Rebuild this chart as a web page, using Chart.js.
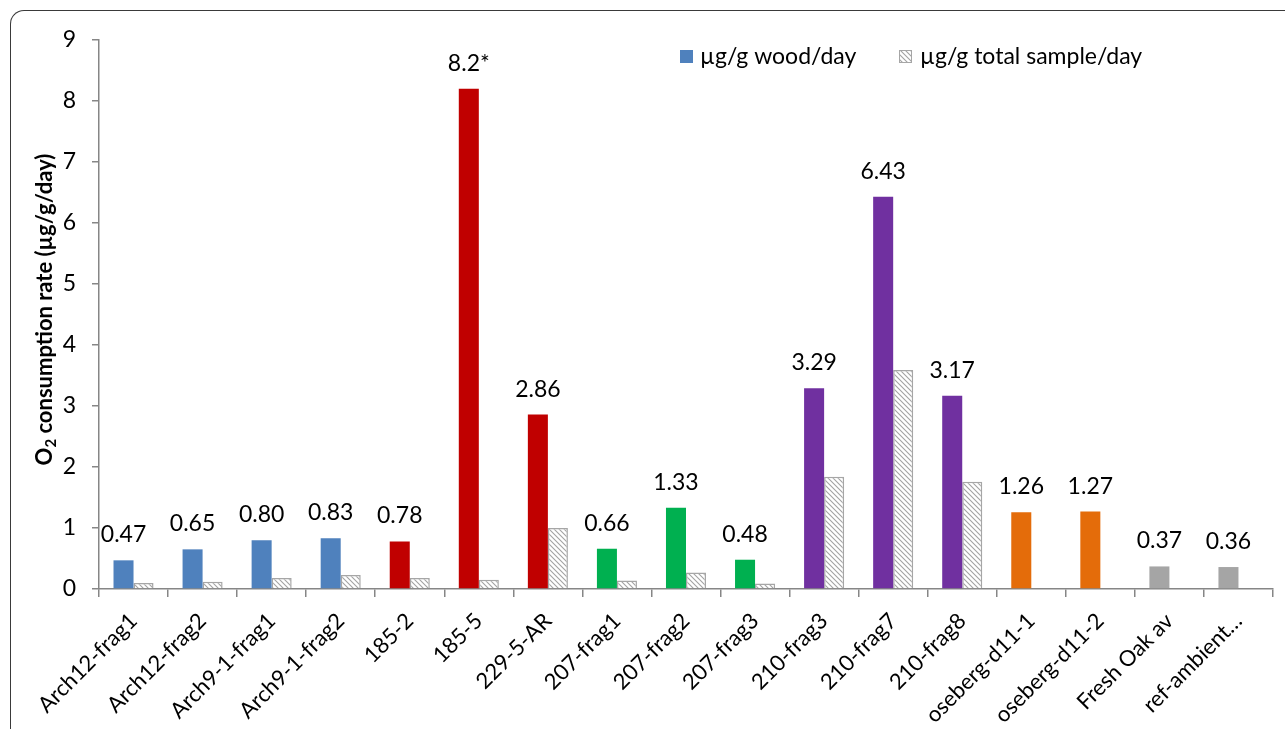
<!DOCTYPE html>
<html>
<head>
<meta charset="utf-8">
<script src="https://cdn.jsdelivr.net/npm/chart.js@4/dist/chart.umd.min.js"></script>
<style>
  html, body { margin: 0; padding: 0; background: #fff; overflow: hidden; }
  #wrap { position: relative; width: 1285px; height: 729px; }
  #frame {
    position: absolute; left: 10px; top: 10px; width: 1400px; height: 900px;
    border-top: 1.5px solid #3a3a3a; border-left: 1.5px solid #3a3a3a;
    border-top-left-radius: 14px; box-sizing: border-box; pointer-events: none;
  }
  canvas { position: absolute; left: 0; top: 0; }
</style>
</head>
<body>
<div id="wrap">
  <canvas id="c" width="1285" height="729"></canvas>
  <div id="frame"></div>
</div>
<script>
// Samples
const categories = [
  'Arch12-frag1', 'Arch12-frag2', 'Arch9-1-frag1', 'Arch9-1-frag2', '185-2', '185-5',
  '229-5-AR', '207-frag1', '207-frag2', '207-frag3', '210-frag3', '210-frag7',
  '210-frag8', 'oseberg-d11-1', 'oseberg-d11-2', 'Fresh Oak av', 'ref-ambient…'
];

// O2 consumption, µg/g wood/day
const woodRate = [0.47, 0.65, 0.80, 0.83, 0.78, 8.2, 2.86, 0.66, 1.33, 0.48, 3.29, 6.43, 3.17, 1.26, 1.27, 0.37, 0.36];
const woodLabels = ['0.47', '0.65', '0.80', '0.83', '0.78', '8.2*', '2.86', '0.66', '1.33', '0.48', '3.29', '6.43', '3.17', '1.26', '1.27', '0.37', '0.36'];

// O2 consumption, µg/g total sample/day
const totalRate = [0.10, 0.12, 0.18, 0.23, 0.18, 0.15, 1.00, 0.14, 0.27, 0.09, 1.84, 3.59, 1.76, null, null, null, null];

// Colour per sample group
const groupColors = [
  '#4F81BD', '#4F81BD', '#4F81BD', '#4F81BD',
  '#C00000', '#C00000', '#C00000',
  '#00B050', '#00B050', '#00B050',
  '#7030A0', '#7030A0', '#7030A0',
  '#E46C0A', '#E46C0A',
  '#A5A5A5', '#A5A5A5'
];

const yTicks = [0, 1, 2, 3, 4, 5, 6, 7, 8, 9];
const seriesNames = ['µg/g wood/day', 'µg/g total sample/day'];

const FONT = 'Lato, "Open Sans", sans-serif';

// diagonal hatch fill
function makeHatch() {
  const s = 5;
  const pc = document.createElement('canvas');
  pc.width = s; pc.height = s;
  const p = pc.getContext('2d');
  p.fillStyle = '#ffffff';
  p.fillRect(0, 0, s, s);
  p.strokeStyle = '#a3a3a3';
  p.lineWidth = 1.1;
  p.beginPath();
  p.moveTo(-1, -1); p.lineTo(s + 1, s + 1);
  p.moveTo(-1, s - 1); p.lineTo(1, s + 1);
  p.moveTo(s - 1, -1); p.lineTo(s + 1, 1);
  p.stroke();
  return document.getElementById('c').getContext('2d').createPattern(pc, 'repeat');
}
const hatch = makeHatch();

const overlay = {
  id: 'overlay',
  afterDatasetsDraw(chart) {
    const ctx = chart.ctx;
    const meta = chart.getDatasetMeta(0);
    ctx.save();
    // value labels over the wood bars
    ctx.font = '23px ' + FONT;
    ctx.fillStyle = '#000';
    ctx.textAlign = 'center';
    ctx.textBaseline = 'alphabetic';
    meta.data.forEach((bar, i) => {
      ctx.fillText(woodLabels[i], bar.x, bar.y - 18);
    });

    // legend
    ctx.textAlign = 'left';
    ctx.font = '23px ' + FONT;
    ctx.fillStyle = '#4F81BD';
    ctx.fillRect(680, 50, 13, 13);
    ctx.fillStyle = '#000';
    ctx.fillText(seriesNames[0], 700, 64);
    ctx.fillStyle = hatch;
    ctx.fillRect(899, 50, 13, 13);
    ctx.strokeStyle = '#a6a6a6';
    ctx.lineWidth = 1;
    ctx.strokeRect(899.5, 50.5, 12, 12);
    ctx.fillStyle = '#000';
    ctx.fillText(seriesNames[1], 920, 64);

    // y axis title with subscript
    const area = chart.chartArea;
    ctx.translate(45, (area.top + area.bottom) / 2 - 5);
    ctx.rotate(-Math.PI / 2);
    const big = 'bold 22px ' + FONT;
    const small = 'bold 15px ' + FONT;
    const rest = ' consumption rate (µg/g/day)';
    ctx.font = big; const wO = ctx.measureText('O').width; const wR = ctx.measureText(rest).width;
    ctx.font = small; const w2 = ctx.measureText('2').width;
    let x = -(wO + w2 + wR) / 2;
    ctx.textBaseline = 'middle';
    ctx.font = big; ctx.fillText('O', x, 0); x += wO;
    ctx.font = small; ctx.fillText('2', x, 6); x += w2;
    ctx.font = big; ctx.fillText(rest, x, 0);
    ctx.restore();
  }
};

new Chart(document.getElementById('c'), {
  type: 'bar',
  data: {
    labels: categories,
    datasets: [
      {
        label: seriesNames[0],
        data: woodRate,
        backgroundColor: groupColors,
        borderWidth: 0,
        categoryPercentage: 0.58,
        barPercentage: 1.0
      },
      {
        label: seriesNames[1],
        data: totalRate,
        backgroundColor: hatch,
        borderColor: '#a6a6a6',
        borderWidth: 1.5,
        categoryPercentage: 0.58,
        barPercentage: 1.0
      }
    ]
  },
  options: {
    responsive: false,
    devicePixelRatio: 1,
    animation: false,
    layout: { padding: { top: 40, right: 12, left: 0, bottom: 0 } },
    plugins: {
      legend: { display: false },
      tooltip: { enabled: false }
    },
    scales: {
      x: {
        offset: true,
        grid: { offset: true, drawOnChartArea: false, drawTicks: true, tickLength: 8, color: '#868686', lineWidth: 1.5 },
        border: { display: true, color: '#868686', width: 1.5 },
        ticks: {
          font: { family: FONT, size: 22 }, color: '#000',
          maxRotation: 45, minRotation: 45, autoSkip: false, padding: 11
        },
        afterFit(scale) { scale.height = 140; scale.paddingLeft = 0; scale.paddingRight = 0; }
      },
      y: {
        min: 0, max: 9,
        afterBuildTicks(scale) { scale.ticks = yTicks.map(v => ({ value: v })); },
        grid: { drawOnChartArea: false, drawTicks: true, tickLength: 7, color: '#868686', lineWidth: 1.5 },
        border: { display: true, color: '#868686', width: 1.5 },
        ticks: { font: { family: FONT, size: 23 }, color: '#000', padding: 16 },
        afterFit(scale) { scale.width = 99; scale.paddingTop = 0; scale.paddingBottom = 0; }
      }
    }
  },
  plugins: [overlay]
});
</script>
</body>
</html>
